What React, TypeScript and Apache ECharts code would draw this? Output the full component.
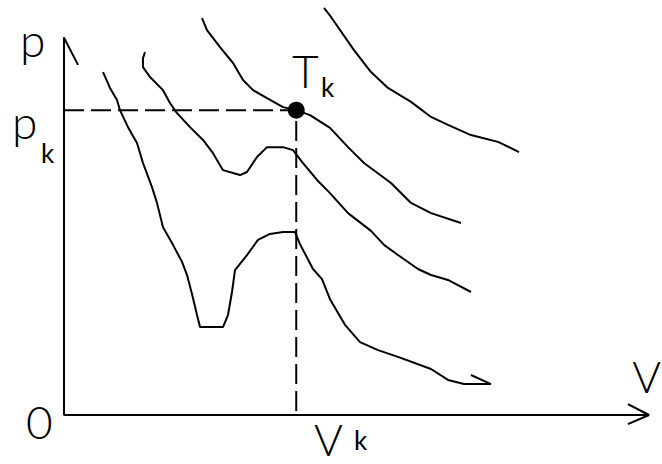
import React, { useEffect, useRef } from "react";
import * as echarts from "echarts";

// Critical point (V_k, p_k)
const criticalV = 39.7;
const criticalP = 80.8;

// Isotherms as [V, p] pairs, lowest temperature first
const isothermLow: number[][] = [
  [6.67, 90.9], [7.86, 86.7], [9.06, 83.5], [9.57, 80.8], [10.94, 76.3], [12.48, 72.1],
  [13.5, 66.8], [15.04, 60.4], [15.9, 56.2], [16.92, 49.8], [18.63, 45.1], [20.17, 40.6],
  [21.03, 37.1], [21.88, 32.1], [22.74, 26.5], [23.25, 23.3], [27.18, 23.3], [28.03, 26.5],
  [28.72, 32.6], [29.23, 38.4], [31.28, 42.4], [33.16, 46.4], [35.21, 48.0], [37.44, 48.5],
  [39.49, 48.5], [40.34, 45.3], [42.56, 38.7], [44.1, 36.0], [45.47, 30.7], [48.03, 23.9],
  [50.6, 19.3], [53.68, 17.2], [57.09, 15.4], [62.74, 12.2], [65.64, 9.3], [68.38, 8.2],
  [72.99, 8.2],
];
const isothermLowHook: number[][] = [[69.57, 10.6], [72.99, 8.2]];
const isothermMid: number[][] = [
  [13.85, 96.2], [13.5, 94.6], [13.5, 92.2], [14.7, 89.6], [16.92, 86.1], [18.12, 82.7],
  [19.32, 80.0], [21.54, 76.3], [23.76, 72.9], [25.47, 69.4], [27.18, 64.9], [30.09, 63.6],
  [31.28, 64.4], [32.99, 68.4], [34.7, 71.0], [37.44, 71.0], [39.15, 70.2], [40.68, 67.1],
  [43.25, 62.3], [45.47, 58.8], [48.55, 53.5], [52.48, 48.8], [54.7, 45.1], [57.09, 42.4],
  [60.51, 38.7], [62.74, 37.1], [65.64, 35.8], [69.57, 32.6],
];
const isothermCritical: number[][] = [
  [23.59, 105.2], [24.44, 102.0], [26.67, 97.5], [28.89, 93.3], [30.6, 88.8], [32.31, 86.1],
  [34.7, 84.0], [37.44, 81.6], [39.7, 80.8], [42.05, 79.5], [45.47, 76.1], [48.55, 71.0],
  [51.28, 66.8], [55.9, 61.5], [59.32, 56.2], [62.74, 53.5], [67.86, 50.9],
];
const isothermHigh: number[][] = [
  [44.44, 107.9], [45.64, 105.5], [49.57, 96.7], [52.48, 90.9], [55.38, 86.7], [59.32, 83.0],
  [62.74, 79.0], [65.64, 76.9], [69.57, 74.2], [74.19, 72.4], [77.78, 69.7],
];

// Axes (with open arrow heads)
const axisPath: number[][] = [[0, 100], [0, 0], [100, 0]];
const yArrow: number[][] = [[-1.5, 94.6], [0, 100], [2.4, 92.8]];
const xArrow: number[][] = [[96.4, 2.9], [100, 0], [96.4, -2.4]];

// Labels
const labelP = "p";
const labelSub = "k";
const labelOrigin = "0";
const labelT = "T";
const labelV = "V";

const FONT = "Lato, 'Liberation Sans', sans-serif";

export default function App() {
  const ref = useRef<HTMLDivElement>(null);
  useEffect(() => {
    if (!ref.current) return;
    const chart = echarts.init(ref.current, undefined, { renderer: "svg" });
    const black = "#000";
    const lineSeries = (name: string, data: number[][], extra: any = {}) => ({
      name,
      type: "line",
      data,
      symbol: "none",
      clip: false,
      silent: true,
      lineStyle: { color: black, width: 2, ...(extra.lineStyle || {}) },
      z: extra.z || 2,
    });
    const txt = (
      text: string,
      x: number,
      y: number,
      size: number,
      weight = 300,
      align = "left"
    ) => ({
      type: "text",
      x,
      y,
      silent: true,
      style: {
        text,
        fontSize: size,
        lineHeight: Math.round(size * 0.75),
        fontFamily: FONT,
        fontWeight: weight,
        fill: black,
        align,
        verticalAlign: "middle",
      },
    });
    chart.setOption({
      animation: false,
      backgroundColor: "#fff",
      grid: { left: 64, right: 13, top: 0, bottom: 49, containLabel: false },
      xAxis: { type: "value", min: 0, max: 100, show: false },
      yAxis: { type: "value", min: 0, max: 110, show: false },
      series: [
        lineSeries("axes", axisPath, { z: 3 }),
        lineSeries("yArrow", yArrow, { z: 3 }),
        lineSeries("xArrow", xArrow, { z: 3 }),
        lineSeries(
          "critical lines",
          [[0, criticalP], [criticalV, criticalP], [criticalV, 0]],
          { lineStyle: { type: [20, 7] } }
        ),
        lineSeries("T1", isothermLow),
        lineSeries("T1 hook", isothermLowHook),
        lineSeries("T2", isothermMid),
        lineSeries("Tk", isothermCritical),
        lineSeries("T4", isothermHigh),
        {
          name: "critical point",
          type: "scatter",
          data: [[criticalV, criticalP]],
          symbol: "circle",
          symbolSize: 17,
          itemStyle: { color: black, opacity: 1 },
          silent: true,
          z: 5,
        },
      ],
      graphic: [
        txt(labelP, 20, 39, 46),
        txt(labelP, 12, 121, 46),
        txt(labelSub, 41, 153, 26, 400),
        txt(labelOrigin, 26, 421, 46),
        txt(labelT, 292, 70, 46),
        txt(labelSub, 321, 87, 26, 400),
        txt(labelV, 314, 439, 44),
        txt(labelSub, 354, 440, 26, 400),
        txt(labelV, 661, 376, 44, 300, "right"),
      ],
    });
    return () => chart.dispose();
  }, []);
  return (
    <div
      ref={ref}
      style={{ position: "fixed", left: 0, top: 0, width: 662, height: 464, background: "#fff" }}
    />
  );
}
